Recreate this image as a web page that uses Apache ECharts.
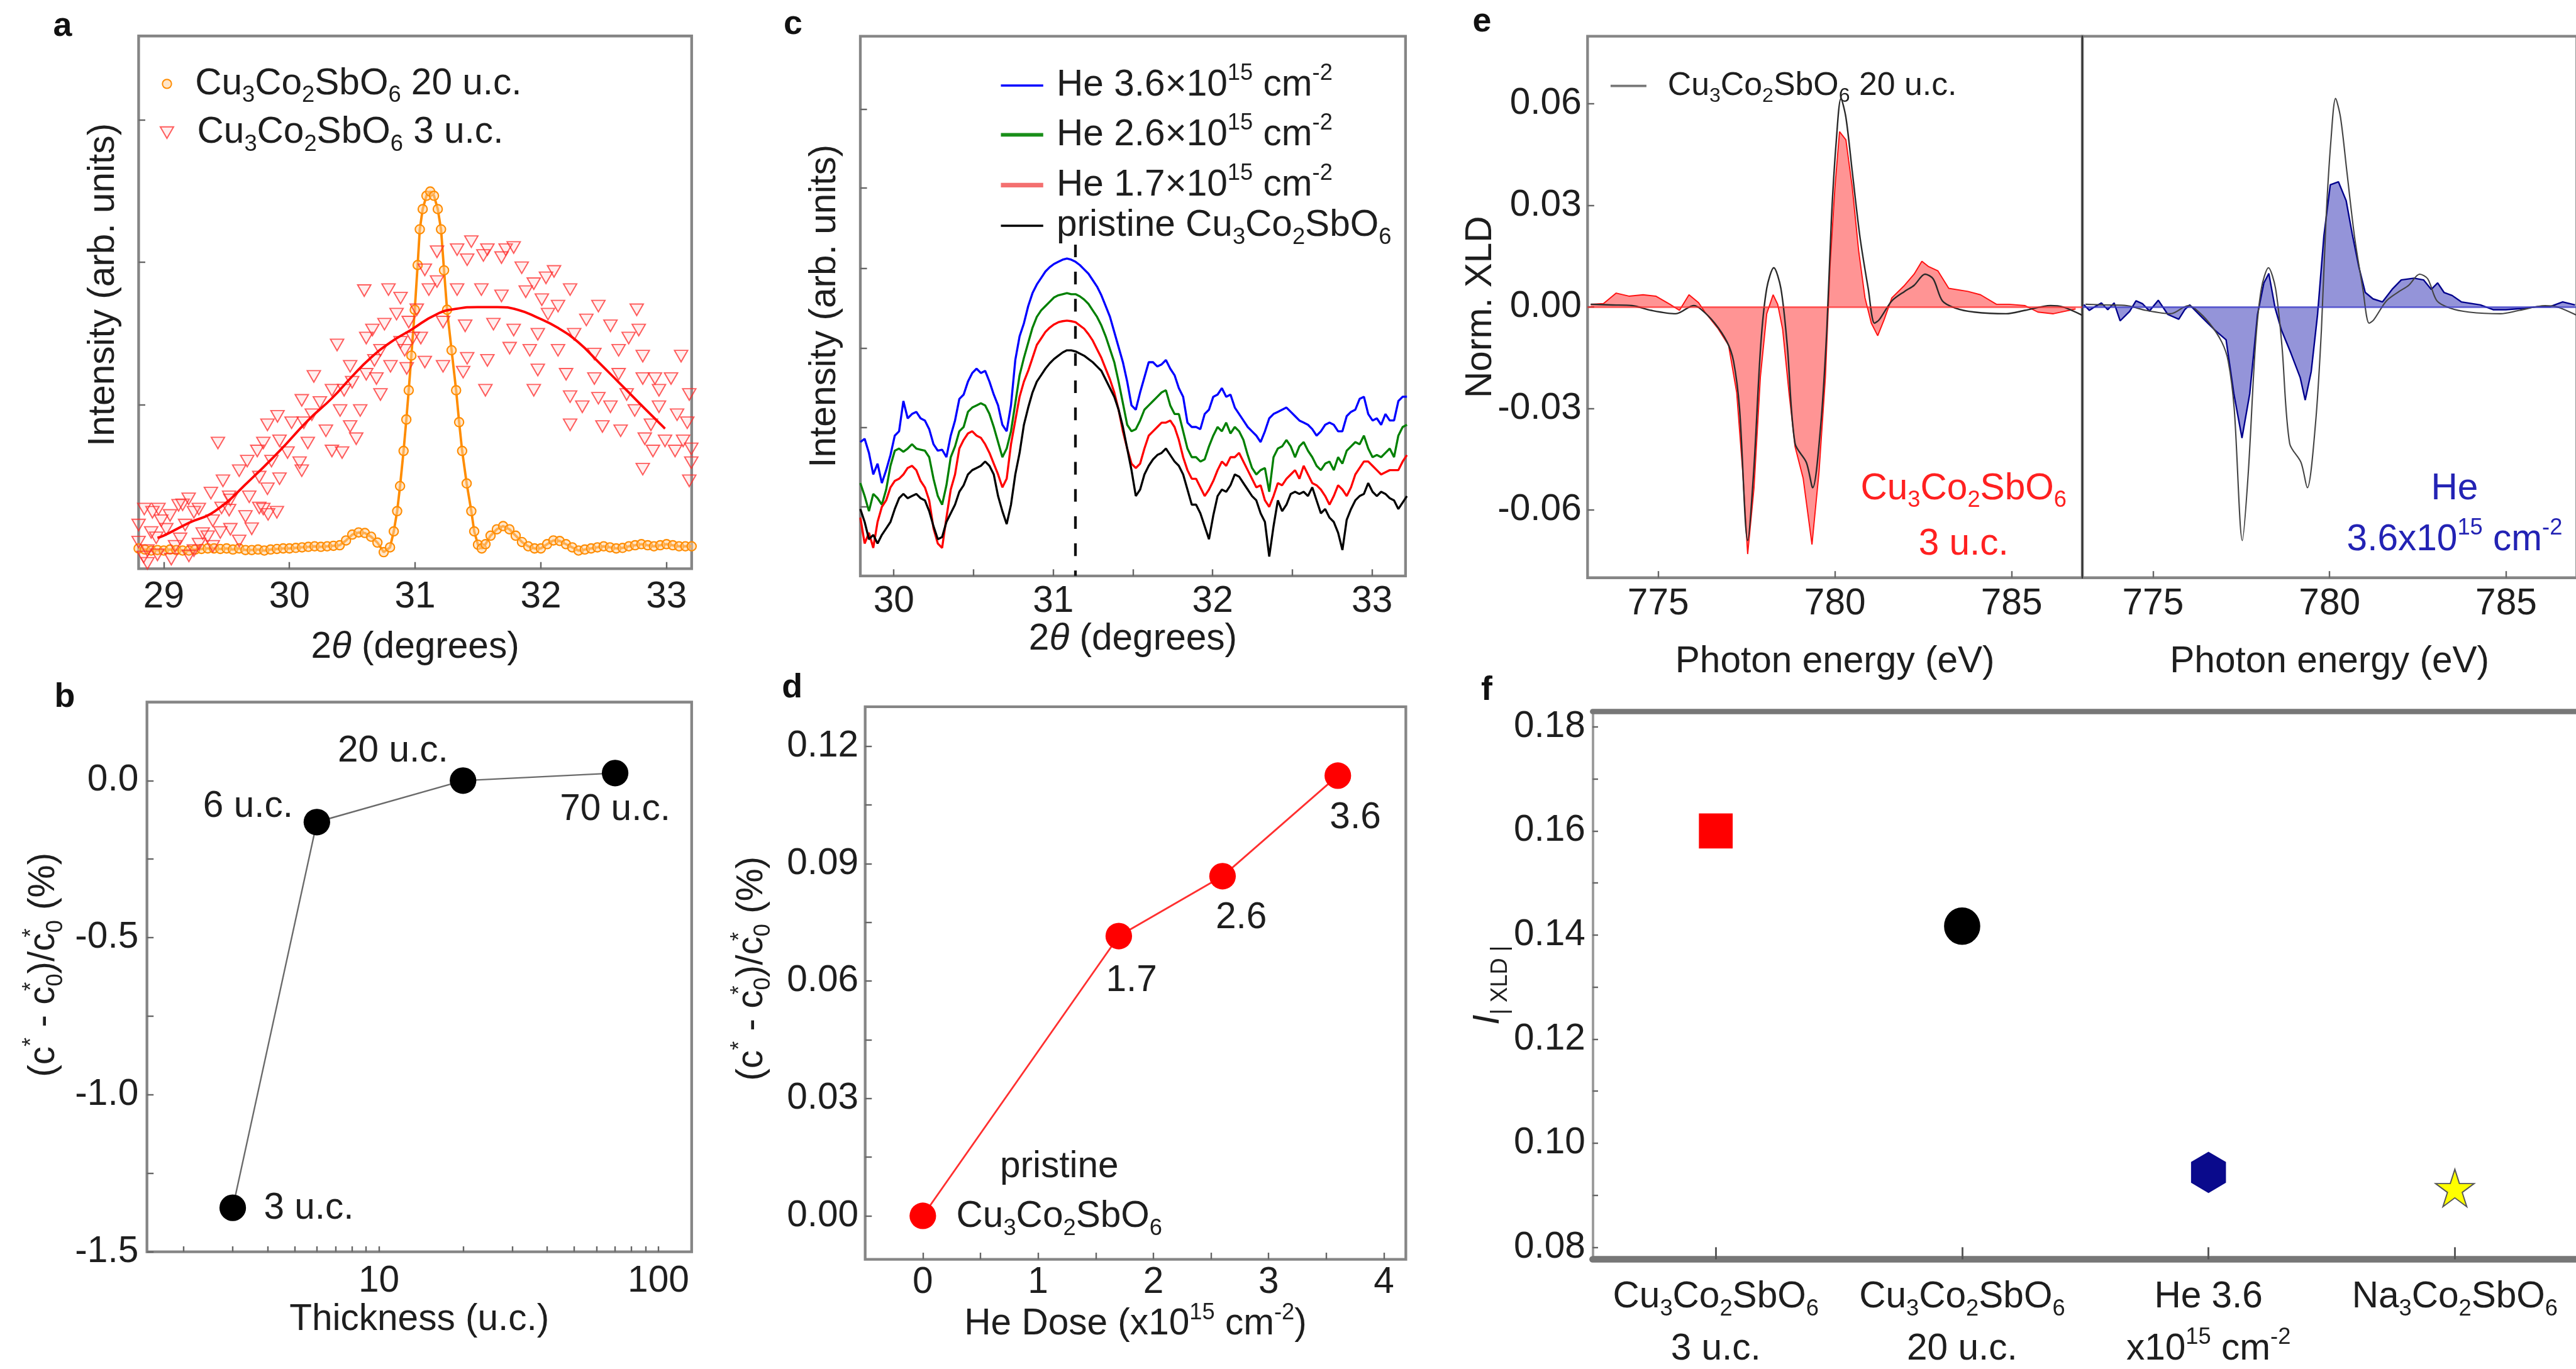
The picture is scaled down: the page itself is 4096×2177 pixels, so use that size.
<!DOCTYPE html>
<html><head><meta charset="utf-8">
<script src="https://cdn.jsdelivr.net/npm/echarts@6/dist/echarts.min.js"></script>
<style>html,body{margin:0;padding:0;background:#fff}#c{width:4096px;height:2177px}</style>
</head><body><div id="c"></div><script>
// ---------------- DATA ----------------
// Panel a: XRD, 20 u.c. (orange circles) and 3 u.c. (red triangles) + fit
const a20uc = [[28.80,3.8],[28.85,3.6],[28.90,3.4],[28.95,3.5],[29.00,3.4],[29.05,3.6],[29.10,3.5],[29.15,3.4],[29.20,3.4],[29.25,3.6],
[29.30,3.7],[29.35,3.8],[29.40,3.8],[29.45,3.7],[29.50,3.8],[29.55,3.6],[29.60,3.8],[29.65,3.5],[29.70,3.5],[29.75,3.6],
[29.80,3.4],[29.85,3.6],[29.90,3.7],[29.95,3.8],[30.00,3.8],[30.05,3.9],[30.10,4.0],[30.15,4.1],[30.20,4.2],[30.25,4.1],
[30.30,4.2],[30.35,4.3],[30.40,4.4],[30.45,5.3],[30.50,6.4],[30.55,6.8],[30.60,6.7],[30.65,6.0],[30.70,4.9],[30.75,3.1],
[30.80,4.0],[30.83,7.0],[30.857,10.8],[30.88,15.5],[30.908,22.1],[30.93,28.0],[30.949,33.5],[30.97,40.0],[30.997,48.6],[31.02,57.0],
[31.037,63.7],[31.06,67.5],[31.09,70.0],[31.12,70.8],[31.15,70.0],[31.18,67.5],[31.206,63.7],[31.23,56.0],[31.254,48.6],[31.29,41.0],
[31.326,33.5],[31.35,27.5],[31.374,22.1],[31.41,16.0],[31.447,10.8],[31.47,7.0],[31.50,4.5],[31.53,3.8],[31.56,4.6],[31.60,6.2],
[31.65,7.4],[31.70,8.0],[31.75,7.4],[31.80,6.2],[31.85,5.0],[31.90,4.2],[31.95,3.8],[32.00,3.8],[32.05,4.6],[32.10,5.3],
[32.15,5.2],[32.20,4.6],[32.25,4.0],[32.30,3.4],[32.35,3.6],[32.40,3.8],[32.45,4.0],[32.50,4.2],[32.55,4.0],[32.60,3.8],
[32.65,3.9],[32.70,4.2],[32.75,4.4],[32.80,4.6],[32.85,4.4],[32.90,4.2],[32.95,4.4],[33.00,4.6],[33.05,4.4],[33.10,4.2],[33.15,4.2],[33.20,4.2]];
const a3uc = [
[28.80,5.0],[28.87,3.4],[28.94,5.8],[29.02,7.4],[29.09,4.2],[28.80,8.2],[28.91,10.6],[28.98,9.0],[29.17,8.2],[29.24,10.6],
[29.31,6.6],[29.39,9.0],[29.46,11.4],[29.53,12.9],[29.06,1.8],[29.24,3.4],[29.39,4.2],[29.53,7.4],[29.65,9.8],[29.76,11.4],
[29.90,10.6],[28.87,1.0],[29.83,10.2],[28.84,2.2],[28.95,2.6],[29.13,5.6],[29.20,2.4],[29.28,4.6],[29.35,6.0],[29.45,6.8],
[29.60,5.2],[29.70,7.5],[28.90,6.8],[29.05,10.0],[29.15,12.0],
[30.595,52.2],[30.788,52.4],[30.379,42.0],[30.194,36.1],[29.431,23.6],[30.884,50.8],[30.852,47.8],[30.756,45.9],[30.660,44.8],[30.611,43.3],
[30.949,46.3],[30.884,42.5],[30.724,41.0],[30.676,39.1],[30.483,38.0],[30.804,38.0],[30.933,37.6],[30.611,36.5],[30.499,35.0],[30.692,35.7],
[30.338,33.5],[30.435,33.5],[30.724,32.7],[30.242,31.2],[30.098,31.6],[30.563,29.7],[30.403,29.7],[30.178,28.9],[29.905,28.6],[30.017,27.4],
[30.114,27.4],[29.825,27.0],[30.483,26.7],[30.290,25.9],[30.531,24.4],[29.921,24.0],[29.792,23.6],[30.146,23.6],[30.338,22.1],[30.419,21.8],
[29.744,22.1],[29.985,21.8],[30.081,19.9],[29.857,20.2],[29.664,20.2],[29.600,18.4],[29.760,17.2],[29.921,16.9],[29.471,16.5],[30.098,18.4],
[29.825,15.0],[29.375,14.2],[29.520,13.5],[29.680,13.5],[29.198,13.1],[29.118,11.9],[29.279,11.2],[28.958,11.2],[28.845,11.2],[29.792,11.2],
[29.520,11.0],[30.917,41.0],[30.981,43.3],[31.013,48.6],
[31.447,61.4],[31.575,59.9],[31.720,59.9],[31.334,59.9],[31.784,60.3],[31.174,59.5],[31.414,58.0],[31.543,58.8],[31.687,58.4],[31.848,56.5],
[32.105,55.8],[32.041,54.6],[31.944,53.5],[32.233,52.4],[31.880,52.0],[32.008,50.5],[31.687,51.2],[31.527,52.4],[31.334,52.4],[31.174,53.9],
[31.109,52.4],[31.077,56.1],[32.458,49.3],[32.763,48.6],[32.137,49.3],[32.057,47.8],[32.362,46.7],[32.554,45.6],[32.779,44.8],[32.699,43.3],
[32.265,44.0],[31.976,44.0],[31.784,44.8],[31.623,45.9],[31.398,45.6],[31.222,46.3],[31.045,43.3],[31.752,41.4],[31.912,41.0],[32.137,41.0],
[32.426,40.3],[32.619,41.0],[32.811,39.9],[33.116,39.9],[31.575,39.1],[31.414,39.5],[31.222,38.0],[31.077,38.8],[31.382,36.9],[31.976,37.3],
[32.201,36.5],[32.426,35.7],[32.619,36.5],[32.811,35.7],[32.908,35.7],[33.036,35.7],[31.559,33.5],[31.944,33.5],[32.233,32.3],[32.458,32.0],
[32.683,32.7],[32.940,33.5],[33.181,32.7],[32.330,30.4],[32.554,30.4],[32.747,29.7],[32.940,30.4],[33.084,28.9],[33.165,27.4],[32.233,27.0],
[32.490,26.7],[32.635,25.9],[32.876,27.0],[32.827,24.4],[32.988,24.0],[33.132,24.0],[32.892,22.1],[33.068,22.1],[33.197,22.5],[33.197,19.9],
[32.811,18.7],[33.181,16.5]];
const a3ucFit = [[28.95,5.8],[29.00,6.2],[29.20,8.6],[29.407,10.8],[29.696,16.85],[29.921,22.1],[30.146,27.8],[30.338,32.0],[30.499,36.1],[30.643,39.5],
[30.804,42.5],[30.965,44.8],[31.174,47.8],[31.334,48.8],[31.495,49.1],[31.655,49.1],[31.816,48.6],[31.976,47.1],[32.137,45.2],[32.298,42.5],
[32.458,38.8],[32.619,35.0],[32.779,31.2],[32.940,27.4],[32.988,26.3]];
const aTicks = [29,30,31,32,33];

// Panel b
const bThickness = [3, 6, 20, 70];
const bStrain = [-1.36, -0.132, 0.0, 0.024];
const bNames = ['3 u.c.', '6 u.c.', '20 u.c.', '70 u.c.'];

// Panel c: XRD vs He dose
const cTheta = [
29.790,29.817,29.844,29.871,29.898,29.925,29.952,29.979,30.006,30.033,
30.060,30.087,30.114,30.141,30.168,30.195,30.222,30.249,30.276,30.303,
30.330,30.357,30.384,30.411,30.438,30.465,30.492,30.519,30.546,30.573,
30.600,30.627,30.654,30.681,30.708,30.735,30.762,30.789,30.816,30.843,
30.870,30.897,30.924,30.951,30.978,31.005,31.032,31.059,31.086,31.113,
31.140,31.167,31.194,31.221,31.248,31.275,31.302,31.329,31.356,31.383,
31.410,31.437,31.464,31.491,31.518,31.545,31.572,31.599,31.626,31.653,
31.680,31.707,31.734,31.761,31.788,31.815,31.842,31.869,31.896,31.923,
31.950,31.977,32.004,32.031,32.058,32.085,32.112,32.139,32.166,32.193,
32.220,32.247,32.274,32.301,32.328,32.355,32.382,32.409,32.436,32.463,
32.490,32.517,32.544,32.571,32.598,32.625,32.652,32.679,32.706,32.733,
32.760,32.787,32.814,32.841,32.868,32.895,32.922,32.949,32.976,33.003,
33.030,33.057,33.084,33.111,33.138,33.165,33.192,33.219];
const cHe36 = [
2.48,2.54,2.28,1.88,2.08,1.72,1.96,2.24,2.60,2.68,
3.24,2.92,3.00,3.04,2.92,2.88,2.72,2.44,2.32,2.34,
2.20,2.60,2.88,3.28,3.36,3.60,3.76,3.84,3.76,3.80,
3.60,3.36,3.16,2.80,2.68,3.16,4.00,4.44,4.68,5.00,
5.24,5.40,5.52,5.64,5.72,5.78,5.82,5.86,5.88,5.86,
5.82,5.76,5.68,5.60,5.48,5.36,5.20,5.00,4.80,4.52,
4.24,3.96,3.60,3.16,3.08,3.40,3.68,3.96,3.96,3.88,
3.92,4.00,3.84,3.72,3.48,3.32,2.84,2.76,
2.76,2.72,3.00,3.08,3.32,3.36,3.48,3.32,3.36,3.12,
3.00,2.88,2.76,2.68,2.60,2.48,2.68,2.92,3.00,3.04,
3.08,3.12,3.04,2.96,2.88,2.84,2.80,2.72,2.60,2.68,
2.80,2.84,2.80,2.68,2.68,2.96,3.04,3.08,3.28,3.32,
3.00,2.88,2.92,2.80,3.00,2.88,2.88,3.24,3.32,3.32];
const cHe26 = [
1.72,1.48,1.20,1.52,1.44,1.32,1.60,2.04,2.32,2.36,
2.30,2.36,2.44,2.36,2.34,2.32,2.20,1.80,1.48,1.32,
1.68,2.20,2.40,2.68,2.76,3.04,3.12,3.16,3.20,3.16,
3.00,2.76,2.48,2.20,2.36,2.68,3.20,3.72,4.04,4.32,
4.60,4.80,4.92,5.00,5.08,5.16,5.20,5.22,5.24,5.22,
5.22,5.18,5.12,5.04,4.92,4.80,4.64,4.44,4.20,3.96,
3.60,3.20,2.80,2.68,2.72,2.88,3.08,3.16,3.24,3.32,
3.40,3.44,3.16,3.00,3.00,2.68,2.36,2.20,
2.20,2.12,2.16,2.40,2.60,2.76,2.68,2.84,2.64,2.76,
2.68,2.52,2.24,2.00,1.88,1.96,2.00,1.56,2.20,2.36,
2.40,2.52,2.40,2.20,2.40,2.48,2.32,2.20,2.04,1.96,
2.08,2.12,1.96,2.20,2.08,2.32,2.40,2.48,2.44,2.60,
2.36,2.20,2.24,2.20,2.28,2.36,2.20,2.60,2.76,2.80];
const cHe17 = [
1.08,0.60,0.80,0.52,1.00,1.28,1.40,1.64,1.76,1.80,
1.88,2.00,2.04,1.96,1.76,1.64,1.40,0.88,0.60,0.52,
1.08,1.60,1.88,2.36,2.52,2.64,2.68,2.60,2.56,2.44,
2.28,2.08,1.88,1.64,1.80,2.44,2.88,3.32,3.60,3.80,
4.04,4.28,4.40,4.52,4.60,4.66,4.70,4.72,4.73,4.72,
4.70,4.64,4.58,4.48,4.36,4.20,4.04,3.84,3.64,3.40,
3.08,2.68,2.36,2.08,2.00,2.08,2.36,2.60,2.68,2.76,
2.84,2.84,2.88,2.76,2.52,2.20,1.96,1.80,
1.80,1.64,1.48,1.60,1.76,1.96,2.12,2.04,2.20,2.20,
2.28,2.12,1.96,1.80,1.64,1.68,1.40,1.28,1.48,1.72,
1.68,1.80,1.88,1.96,1.80,2.04,1.88,1.72,1.68,1.60,
1.48,1.32,1.48,1.68,1.60,1.48,1.64,1.88,2.00,2.12,
2.12,2.04,1.96,1.88,1.92,1.96,1.96,1.96,2.12,2.24];
const cPristine = [
1.24,1.00,0.68,0.76,0.60,0.76,0.88,1.00,1.24,1.44,
1.52,1.44,1.48,1.52,1.44,1.40,1.20,0.92,0.68,0.72,
1.00,1.16,1.32,1.56,1.68,1.88,1.96,2.00,2.04,2.12,
2.04,1.88,1.48,1.20,0.96,1.32,1.88,2.28,2.80,3.12,
3.40,3.60,3.72,3.84,3.94,4.02,4.08,4.14,4.18,4.18,
4.16,4.12,4.08,4.02,3.96,3.88,3.80,3.64,3.48,3.32,
3.08,2.76,2.36,1.96,1.48,1.60,1.88,2.04,2.16,2.24,
2.28,2.36,2.24,2.12,2.04,1.88,1.60,1.32,
1.32,1.16,0.92,0.68,1.12,1.48,1.60,1.56,1.68,1.88,
1.84,1.72,1.60,1.48,1.40,1.16,1.00,0.36,0.92,1.40,
1.20,1.32,1.52,1.56,1.52,1.56,1.48,1.64,1.40,1.16,
1.24,1.08,1.00,0.80,0.48,1.04,1.24,1.40,1.48,1.52,
1.72,1.56,1.48,1.56,1.52,1.44,1.40,1.24,1.36,1.48];
const cPeakTheta = 31.14;
const cPeakTop = 6.14;

// Panel d
const dDose = [0, 1.7, 2.6, 3.6];
const dStrain = [0, 0.0715, 0.0868, 0.1125];
const dNames = ['pristine\nCu_{3}Co_{2}SbO_{6}', '1.7', '2.6', '3.6'];

// Panel e: XLD
const e20uc = [[773.09,0.0008],[773.70,0.0006],[774.26,0.0004],[774.80,-0.0010],[775.50,-0.0020],[776.00,0.0004],[776.20,-0.0006],[776.60,-0.0048],[776.95,-0.0104],[777.13,-0.0160],
[777.30,-0.0300],[777.53,-0.0690],[777.70,-0.0487],[777.90,-0.0113],[778.07,0.0055],[778.27,0.0116],[778.47,0.0055],[778.65,-0.0113],[778.87,-0.0403],[779.19,-0.0459],
[779.37,-0.0534],[779.60,-0.0347],[779.77,-0.0066],[779.90,0.0260],[780.04,0.0494],[780.17,0.0616],[780.31,0.0560],[780.49,0.0400],[780.71,0.0205],[780.94,0.0055],
[781.12,-0.0048],[781.25,-0.0038],[781.61,0.0018],[781.97,0.0046],[782.24,0.0064],[782.55,0.0097],[782.78,0.0083],[783.04,0.0018],[783.40,-0.0003],[783.94,-0.0015],
[784.84,-0.0020],[785.38,-0.0010],[786.10,0.0004],[786.45,0.0000],[786.99,-0.0024]];
const e3uc = [[773.09,0.0008],[773.45,0.0010],[773.81,0.0041],[774.17,0.0032],[774.57,0.0036],[774.93,0.0032],[775.33,0.0008],[775.60,-0.0010],[775.87,0.0036],[776.14,0.0013],
[776.32,-0.0015],[776.68,-0.0062],[776.99,-0.0113],[777.22,-0.0253],[777.39,-0.0487],[777.53,-0.0730],[777.71,-0.0534],[777.89,-0.0207],[778.07,-0.0020],[778.25,0.0036],
[778.38,0.0008],[778.52,-0.0066],[778.70,-0.0253],[778.87,-0.0412],[779.10,-0.0506],[779.35,-0.0702],[779.55,-0.0487],[779.73,-0.0207],[779.86,0.0120],[780.00,0.0354],
[780.13,0.0518],[780.31,0.0494],[780.49,0.0354],[780.67,0.0167],[780.85,0.0027],[781.03,-0.0048],[781.21,-0.0085],[781.39,-0.0038],[781.61,0.0027],[781.97,0.0064],
[782.24,0.0097],[782.46,0.0135],[782.64,0.0120],[782.91,0.0107],[783.22,0.0055],[783.76,0.0046],[784.12,0.0036],[784.57,0.0008],[784.93,0.0008],[785.38,0.0004],
[785.74,-0.0015],[786.18,-0.0020],[786.81,-0.0006]];
const eHe36 = [[773.04,0.0007],[773.20,-0.0010],[773.36,0.0001],[773.54,0.0012],[773.72,-0.0008],[773.90,0.0012],[774.07,-0.0041],[774.34,-0.0013],[774.52,0.0018],[774.70,0.0010],
[774.90,-0.0012],[775.15,0.0020],[775.42,-0.0022],[775.73,-0.0036],[775.90,-0.0008],[776.04,0.0006],[776.40,-0.0032],[776.76,-0.0069],[777.07,-0.0097],[777.29,-0.0256],
[777.52,-0.0387],[777.74,-0.0256],[777.96,-0.0022],[778.14,0.0071],[778.28,0.0099],[778.46,-0.0004],[778.64,-0.0069],[778.90,-0.0135],[779.17,-0.0209],[779.31,-0.0275],
[779.48,-0.0191],[779.66,-0.0022],[779.84,0.0211],[780.02,0.0361],[780.25,0.0370],[780.47,0.0314],[780.65,0.0211],[780.83,0.0118],[781.01,0.0043],[781.23,0.0024],
[781.50,0.0015],[781.77,0.0052],[782.03,0.0080],[782.39,0.0085],[782.66,0.0080],[782.88,0.0052],[783.06,0.0071],[783.24,0.0043],[783.47,0.0034],[783.73,0.0015],
[784.27,0.0006],[784.63,-0.0008],[784.99,-0.0008],[785.52,-0.0004],[785.88,0.0001],[786.24,0.0001],[786.60,0.0015],[786.95,0.0006]];
const eTicks = [775, 780, 785];

// Panel f
const fSamples = ['Cu_{3}Co_{2}SbO_{6}\n3 u.c.', 'Cu_{3}Co_{2}SbO_{6}\n20 u.c.', 'He 3.6\nx10^{15} cm^{-2}', 'Na_{3}Co_{2}SbO_{6}'];
const fIxld = [0.160, 0.1417, 0.0944, 0.0914];

// ---------------- STYLE / LAYOUT ----------------
const S = 0.96;
const FONT = "'Liberation Sans', Arial, Helvetica, sans-serif";
const F = 61;
const TXT = '#1e1e1e';
const FRAME = '#858585';
const DOWN_TRIANGLE = 'path://M-1,-0.866 L1,-0.866 L0,0.866 Z';

function rich(f, color, L) {
  L = L || 1.26 * f;
  const sf = 0.62 * f, h = L - 0.64 * f;
  const base = {color: color, fontFamily: FONT};
  return {
    n: Object.assign({fontSize: f, lineHeight: L}, base),
    i: Object.assign({fontSize: f, lineHeight: L, fontStyle: 'italic'}, base),
    s: Object.assign({fontSize: sf, lineHeight: h, height: h, verticalAlign: 'bottom'}, base),
    p: Object.assign({fontSize: sf, lineHeight: h, height: h, verticalAlign: 'top'}, base),
    q: Object.assign({fontSize: sf, lineHeight: h, height: h, verticalAlign: 'top', width: 0}, base)
  };
}
// markup: _{sub} ^{sup} !{sup stacked over following sub} ~{italic}
function rt(s) {
  return s.split('\n').map(function (line) {
    let out = '', last = 0, m;
    const re = /([_^~!])\{([^}]*)\}/g;
    while ((m = re.exec(line))) {
      if (m.index > last) out += '{n|' + line.slice(last, m.index) + '}';
      out += '{' + ({'_': 's', '^': 'p', '~': 'i', '!': 'q'})[m[1]] + '|' + m[2] + '}';
      last = re.lastIndex;
    }
    if (last < line.length) out += '{n|' + line.slice(last) + '}';
    return out;
  }).join('\n');
}
function box(l, t, r, b, show) {
  return {left: l * S, top: t * S, width: (r - l) * S, height: (b - t) * S, show: show,
    borderColor: FRAME, borderWidth: 4.5 * S, backgroundColor: 'transparent', containLabel: false, outerBoundsMode: 'none'};
}
function axis(o) {
  const a = {
    type: o.type || 'value', gridIndex: o.g, min: o.min, max: o.max, position: o.pos,
    axisLine: Object.assign({onZero: false}, o.line || {show: false}),
    splitLine: {show: false},
    axisTick: {show: o.ticks !== null, inside: true, length: (o.tickLen || 11) * S, lineStyle: {color: '#666', width: 2.5 * S}, customValues: o.ticks || undefined},
    axisLabel: {show: !!o.labels, customValues: o.labels || undefined, formatter: o.fmt, color: TXT, fontSize: F * S, fontFamily: FONT, margin: (o.margin || 12) * S},
    name: o.name ? rt(o.name) : '', nameLocation: 'middle', nameGap: (o.gap || 0) * S,
    nameTextStyle: {rich: rich(F * S, TXT), fontSize: F * S, padding: o.shift ? [0, 0, 0, 2 * o.shift * S] : 0},
    nameMoveOverlap: false
  };
  if (o.logBase) a.logBase = o.logBase;
  return a;
}
const fx = function (d) { return function (v) { return Number(v).toFixed(d); }; };

const legendText = {
  a20: '  Cu_{3}Co_{2}SbO_{6} 20 u.c.', a3: '  Cu_{3}Co_{2}SbO_{6} 3 u.c.',
  cHe36: ' He 3.6×10^{15} cm^{-2}', cHe26: ' He 2.6×10^{15} cm^{-2}', cHe17: ' He 1.7×10^{15} cm^{-2}',
  cPristine: ' pristine Cu_{3}Co_{2}SbO_{6}', e20: '  Cu_{3}Co_{2}SbO_{6} 20 u.c.'
};
// legend: name, icon-left, row centre y, icon w, icon h, font, icon, extra
function leg(name, l, cy, w, h, f, icon, extra) {
  return Object.assign({
    data: [icon ? {name: name, icon: icon} : name], left: l * S, top: (cy - h / 2) * S, itemWidth: w * S, itemHeight: h * S,
    padding: 0, selectedMode: false,
    formatter: function (n) { return rt(legendText[n]); },
    textStyle: {rich: rich(f * S, TXT), fontSize: f * S, color: TXT}
  }, extra || {});
}

const strainName = '(c^{*} - c!{*}_{0})/c!{*}_{0} (%)';
const bLabelOffset = [[126, 1], [-114, -25], [-116, -48], [0, 61]];
const dLabelOffset = [[226, -39.5], [21, 74], [31, 69], [29, 70]];
const fStyle = [
  {symbol: 'rect', size: [54, 56], color: '#FF0000', border: '#FF0000'},
  {symbol: 'circle', size: [58, 60], color: '#000000', border: '#000000'},
  {symbol: 'path://M0,-1 L0.866,-0.5 L0.866,0.5 L0,1 L-0.866,0.5 L-0.866,-0.5 Z', size: [56, 66], color: '#0A0A8C', border: '#0A0A8C'},
  {symbol: 'path://M0,-1 L0.2245,-0.309 L0.951,-0.309 L0.363,0.118 L0.588,0.809 L0,0.382 L-0.588,0.809 L-0.363,0.118 L-0.951,-0.309 L-0.2245,-0.309 Z', size: [64, 62], color: '#FFFF00', border: '#555555'}
];
const letters = [['a', 88, 16], ['b', 90, 1127], ['c', 1298, 13], ['d', 1295, 1112], ['e', 2439, 8], ['f', 2453, 1116]];

const pairs = function (xs, ys) { return xs.map(function (x, i) { return [x, ys[i]]; }); };

const option = {
  animation: false,
  backgroundColor: '#ffffff',
  textStyle: {fontFamily: FONT},
  title: letters.map(function (t) {
    return {text: t[0], left: t[1] * S, top: t[2] * S, padding: 0,
      textStyle: {fontSize: 56 * S, fontWeight: 'bold', color: '#111', fontFamily: FONT}};
  }),
  legend: [
    leg('a20', 268, 115.7, 15, 15, F, null),
    leg('a3', 264.5, 198.5, 22, 19, F, null),
    leg('cHe36', 1657.8, 105, 70.1, 3.5, F, 'rect', {itemStyle: {color: '#0000FF'}}),
    leg('cHe26', 1657.8, 188, 70.1, 6, F, 'rect', {itemStyle: {color: '#1a8f1a'}}),
    leg('cHe17', 1657.8, 272, 70.1, 7.5, F, 'rect', {itemStyle: {color: '#F47070'}}),
    leg('cPristine', 1657.8, 345, 70.1, 3.5, F, 'rect', {itemStyle: {color: '#000000'}}),
    leg('e20', 2667.6, 117.3, 59.4, 4, 54, 'rect', {itemStyle: {color: '#777777'}})
  ],
  grid: [
    box(229.6, 59.6, 1145.6, 942, true),
    box(243.4, 1163, 1145.6, 2073.5, true),
    box(1425, 60, 2328, 954, true),
    box(1433, 1170.7, 2328.5, 2086, true),
    box(2629.5, 60, 3449, 957, true),
    box(3449, 60, 4268, 957, true),
    box(2637.9, 1178, 4270, 2086, false)
  ],
  xAxis: [
    axis({g: 0, min: 28.8, max: 33.2, ticks: aTicks, labels: aTicks, fmt: fx(0), margin: 16.5, name: '2~{θ} (degrees)', gap: 92.6}),
    axis({g: 1, type: 'log', logBase: 10, min: 1.48, max: 131.5, ticks: [2,3,4,5,6,7,8,9,10,20,30,40,50,60,70,80,90,100], labels: [10, 100], fmt: fx(0), margin: 19, name: 'Thickness (u.c.)', gap: 74.7, tickLen: 9}),
    axis({g: 2, min: 29.79, max: 33.21, ticks: [30,30.5,31,31.5,32,32.5,33], labels: [30,31,32,33], fmt: fx(0), margin: 11.5, name: '2~{θ} (degrees)', gap: 66.6}),
    axis({g: 3, min: -0.5, max: 4.19, ticks: [0,0.5,1,1.5,2,2.5,3,3.5,4], labels: [0,1,2,3,4], fmt: fx(0), margin: 8.5, name: 'He Dose (x10^{15} cm^{-2})', gap: 69.6}),
    axis({g: 4, min: 773, max: 787, ticks: eTicks, labels: eTicks, fmt: fx(0), margin: 13.5, name: 'Photon energy (eV)', gap: 101}),
    axis({g: 5, min: 773, max: 787, ticks: eTicks, labels: eTicks, fmt: fx(0), margin: 13.5, name: 'Photon energy (eV)', gap: 101}),
    {type: 'category', gridIndex: 6, data: fSamples, boundaryGap: true, position: 'bottom',
      axisLine: {show: true, onZero: false, lineStyle: {color: '#777', width: 11 * S}},
      axisTick: {show: true, inside: true, alignWithLabel: true, length: 20 * S, lineStyle: {color: '#555', width: 3 * S}},
      axisLabel: {show: true, interval: 0, margin: 20 * S, formatter: function (v) { return rt(v); }, rich: rich(F * S, TXT, 86 * S), fontSize: F * S},
      splitLine: {show: false}},
    {type: 'category', gridIndex: 6, data: fSamples, boundaryGap: true, position: 'top',
      axisLine: {show: true, onZero: false, lineStyle: {color: '#777', width: 9 * S}},
      axisTick: {show: false}, axisLabel: {show: false}, splitLine: {show: false}}
  ],
  yAxis: [
    axis({g: 0, min: 0, max: 100, ticks: [30.8, 57.6, 84.2], labels: null, name: 'Intensity (arb. units)', gap: 19.2, shift: 29}),
    axis({g: 1, min: -1.5, max: 0.25, ticks: [-1.5,-1.25,-1,-0.75,-0.5,-0.25,0], labels: [-1.5,-1,-0.5,0], fmt: fx(1), margin: 14, name: strainName, gap: 132, shift: 20}),
    axis({g: 2, min: 0, max: 10, ticks: [1.28, 2.75, 4.22, 5.70, 7.19, 8.65], labels: null, name: 'Intensity (arb. units)', gap: 20}),
    axis({g: 3, min: -0.0111, max: 0.1301, ticks: [0,0.015,0.03,0.045,0.06,0.075,0.09,0.105,0.12], labels: [0,0.03,0.06,0.09,0.12], fmt: fx(2), margin: 11, name: strainName, gap: 149, shift: 24}),
    axis({g: 4, min: -0.08, max: 0.08, ticks: [-0.06,-0.03,0,0.03,0.06], labels: [-0.06,-0.03,0,0.03,0.06], fmt: fx(2), margin: 10, name: 'Norm. XLD', gap: 137.6}),
    axis({g: 5, min: -0.08, max: 0.08, ticks: null, labels: null, line: {show: true, lineStyle: {color: '#333', width: 2.5 * S}}}),
    axis({g: 6, min: 0.0777, max: 0.1830, ticks: [0.08,0.09,0.10,0.11,0.12,0.13,0.14,0.15,0.16,0.17,0.18], labels: [0.08,0.10,0.12,0.14,0.16,0.18], fmt: fx(2), margin: 12, name: '~{I}_{| XLD |}', gap: 134,
      line: {show: true, lineStyle: {color: '#9a9a9a', width: 4 * S}}, tickLen: 9})
  ],
  series: [
    // a
    {type: 'line', xAxisIndex: 0, yAxisIndex: 0, data: a20uc, symbol: 'none', silent: true, z: 2,
      itemStyle: {color: '#FF8C00'}, lineStyle: {color: '#FF8C00', width: 4 * S}},
    {type: 'scatter', name: 'a20', xAxisIndex: 0, yAxisIndex: 0, data: a20uc, symbol: 'circle', symbolSize: 15 * S, z: 3,
      itemStyle: {color: 'rgba(255,205,150,0.5)', borderColor: '#FF8C00', borderWidth: 2.2 * S, opacity: 1}},
    {type: 'scatter', name: 'a3', xAxisIndex: 0, yAxisIndex: 0, data: a3uc, symbol: DOWN_TRIANGLE, symbolSize: [22 * S, 19 * S], z: 4,
      itemStyle: {color: 'rgba(255,120,120,0.12)', borderColor: 'rgba(255,40,40,0.75)', borderWidth: 2 * S, opacity: 1}},
    {type: 'line', xAxisIndex: 0, yAxisIndex: 0, data: a3ucFit, smooth: true, symbol: 'none', silent: true, z: 5,
      itemStyle: {color: '#FF0000'}, lineStyle: {color: '#FF0000', width: 4 * S}},
    // b
    {type: 'line', xAxisIndex: 1, yAxisIndex: 1, symbol: 'circle', symbolSize: 44 * S, z: 3,
      data: bThickness.map(function (x, i) {
        return {value: [x, bStrain[i]], label: {formatter: bNames[i], offset: [bLabelOffset[i][0] * S, bLabelOffset[i][1] * S]}};
      }),
      itemStyle: {color: '#000', opacity: 1}, lineStyle: {color: '#6a6a6a', width: 2.5 * S},
      label: {show: true, position: 'inside', color: TXT, fontSize: F * S, fontFamily: FONT}},
    // c
    {type: 'line', name: 'cHe36', xAxisIndex: 2, yAxisIndex: 2, data: pairs(cTheta, cHe36), symbol: 'none', itemStyle: {color: '#0000FF'}, lineStyle: {color: '#0000FF', width: 3.5 * S}},
    {type: 'line', name: 'cHe26', xAxisIndex: 2, yAxisIndex: 2, data: pairs(cTheta, cHe26), symbol: 'none', itemStyle: {color: '#008000'}, lineStyle: {color: '#008000', width: 3.5 * S}},
    {type: 'line', name: 'cHe17', xAxisIndex: 2, yAxisIndex: 2, data: pairs(cTheta, cHe17), symbol: 'none', itemStyle: {color: '#FF0000'}, lineStyle: {color: '#FF0000', width: 3.5 * S}},
    {type: 'line', name: 'cPristine', xAxisIndex: 2, yAxisIndex: 2, data: pairs(cTheta, cPristine), symbol: 'none', itemStyle: {color: '#000000'}, lineStyle: {color: '#000000', width: 3.5 * S},
      markLine: {silent: true, symbol: ['none', 'none'], label: {show: false},
        lineStyle: {color: '#111', width: 4.5 * S, type: [21 * S, 24 * S]},
        data: [[{coord: [cPeakTheta, cPeakTop]}, {coord: [cPeakTheta, 0]}]]}},
    // d
    {type: 'line', xAxisIndex: 3, yAxisIndex: 3, symbol: 'circle', symbolSize: 44 * S, z: 3,
      data: dDose.map(function (x, i) {
        const lb = {formatter: rt(dNames[i]), offset: [dLabelOffset[i][0] * S, dLabelOffset[i][1] * S]};
        if (i === 0) { lb.rich = rich(F * S, TXT, 82 * S); lb.align = 'center'; }
        return {value: [x, dStrain[i]], label: lb};
      }),
      itemStyle: {color: '#FF0000', opacity: 1}, lineStyle: {color: '#FF3030', width: 3 * S},
      label: {show: true, position: 'inside', color: TXT, fontSize: F * S, fontFamily: FONT, rich: rich(F * S, TXT)}},
    // e left
    {type: 'line', xAxisIndex: 4, yAxisIndex: 4, data: e3uc, symbol: 'none', z: 2,
      itemStyle: {color: '#FF1010'}, lineStyle: {color: '#FF1010', width: 2 * S}, areaStyle: {color: 'rgba(255,0,0,0.6)', origin: 0},
      markLine: {silent: true, symbol: ['none', 'none'], label: {show: false}, lineStyle: {color: 'rgba(255,40,40,0.65)', width: 3 * S, type: 'solid'}, data: [{yAxis: 0}]},
      markPoint: {silent: true, symbol: 'circle', symbolSize: 0,
        label: {show: true, position: 'inside', color: '#FF2020', fontSize: F * S, rich: rich(F * S, '#FF2020')},
        data: [{coord: [783.64, -0.0538], label: {formatter: rt('Cu_{3}Co_{2}SbO_{6}')}},
               {coord: [783.64, -0.0701], label: {formatter: rt('3 u.c.')}}]}},
    {type: 'line', name: 'e20', xAxisIndex: 4, yAxisIndex: 4, data: e20uc, smooth: 0.3, symbol: 'none', z: 4,
      itemStyle: {color: '#777'}, lineStyle: {color: '#2a2a2a', width: 2.5 * S}},
    // e right
    {type: 'line', xAxisIndex: 5, yAxisIndex: 5, data: eHe36, symbol: 'none', z: 2,
      itemStyle: {color: '#00008C'}, lineStyle: {color: '#00008C', width: 2.5 * S}, areaStyle: {color: 'rgba(30,30,175,0.68)', origin: 0},
      markLine: {silent: true, symbol: ['none', 'none'], label: {show: false}, lineStyle: {color: 'rgba(60,60,200,0.7)', width: 3 * S, type: 'solid'}, data: [{yAxis: 0}]},
      markPoint: {silent: true, symbol: 'circle', symbolSize: 0,
        label: {show: true, position: 'inside', color: '#2323B4', fontSize: F * S, rich: rich(F * S, '#2323B4')},
        data: [{coord: [783.54, -0.0538], label: {formatter: rt('He')}},
               {coord: [783.54, -0.0688], label: {formatter: rt('3.6x10^{15} cm^{-2}')}}]}},
    {type: 'line', name: 'e20R', xAxisIndex: 5, yAxisIndex: 5, data: e20uc, smooth: 0.3, symbol: 'none', z: 4,
      itemStyle: {color: '#444'}, lineStyle: {color: '#444', width: 2.2 * S}},
    // f
    {type: 'scatter', xAxisIndex: 6, yAxisIndex: 6, z: 3,
      data: fIxld.map(function (v, i) {
        const st = fStyle[i];
        return {value: [i, v], symbol: st.symbol, symbolSize: [st.size[0] * S, st.size[1] * S],
          itemStyle: {color: st.color, borderColor: st.border, borderWidth: 2 * S, opacity: 1}};
      })}
  ]
};

const chart = echarts.init(document.getElementById('c'), null, {renderer: 'canvas', width: 4096, height: 2177});
chart.setOption(option);
</script></body></html>
